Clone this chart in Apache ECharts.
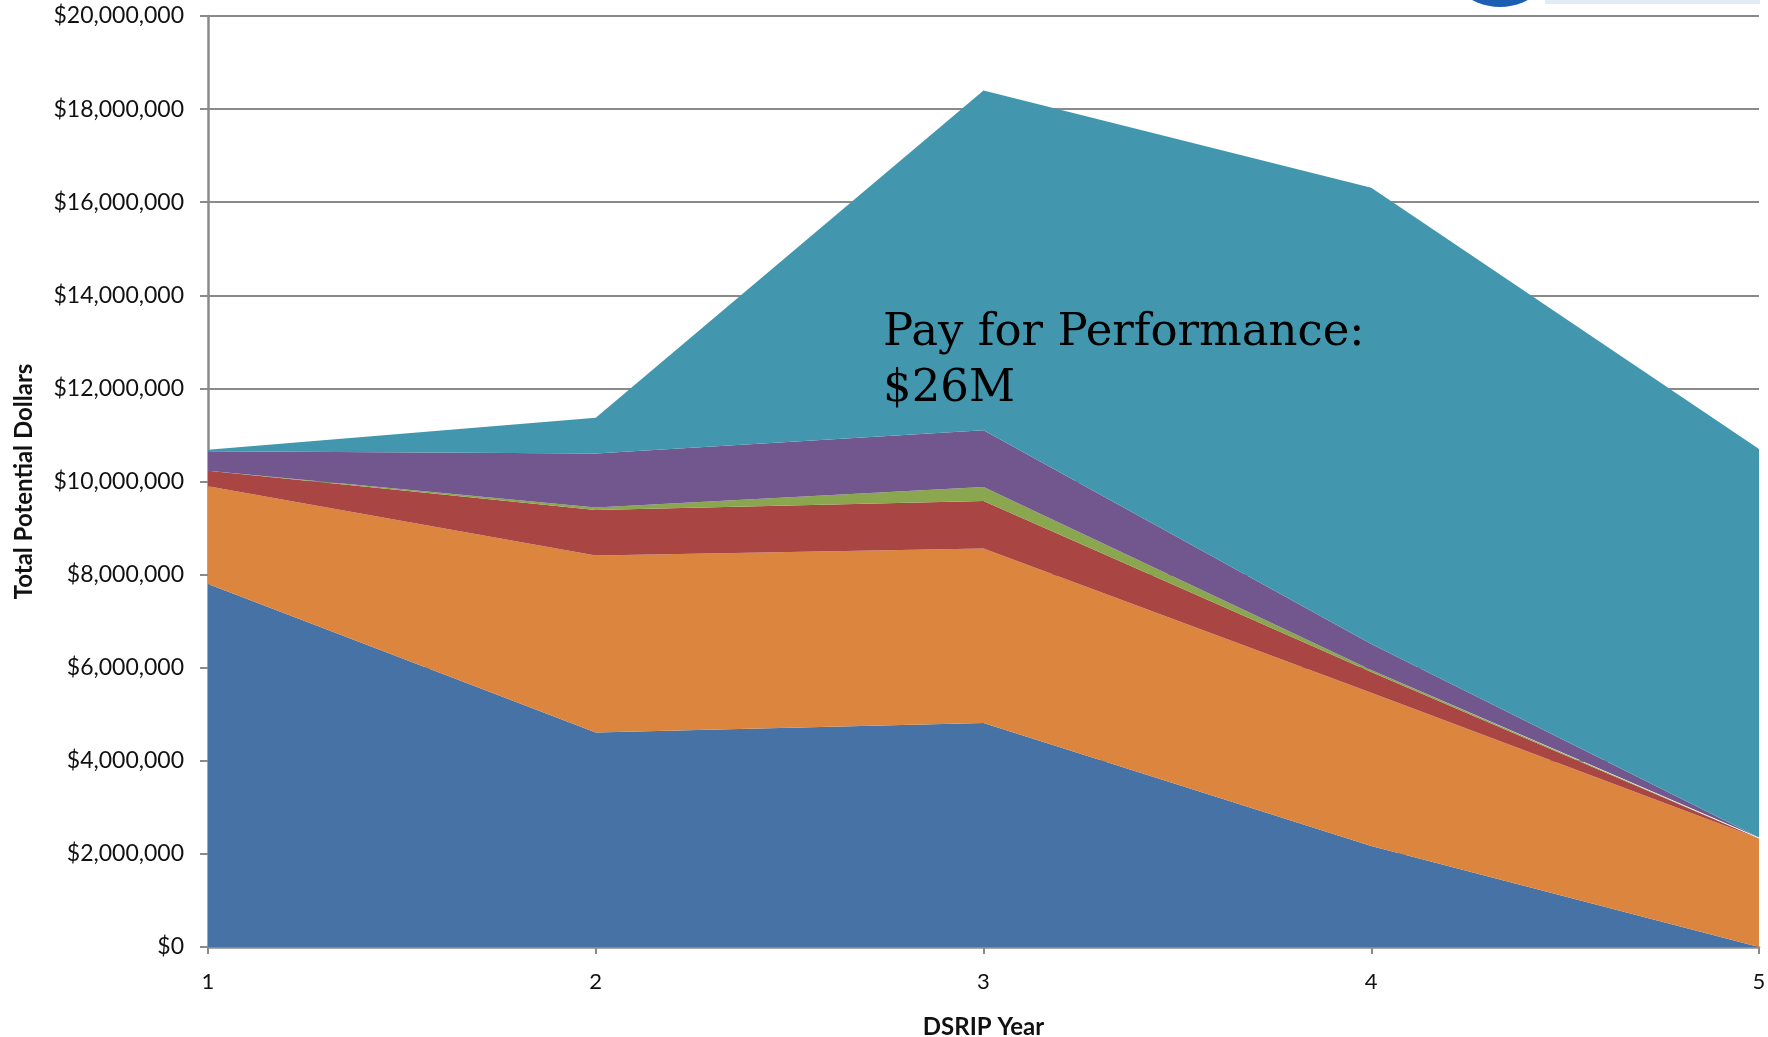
<!DOCTYPE html>
<html>
<head>
<meta charset="utf-8">
<script src="https://cdn.jsdelivr.net/npm/echarts@6/dist/echarts.min.js"></script>
<style>
  html, body { margin: 0; padding: 0; background: #fff; overflow: hidden; }
  #chart { width: 1768px; height: 1037px; }
</style>
</head>
<body>
<div id="chart"></div>
<script>
// DSRIP year categories
const years = ['1', '2', '3', '4', '5'];

// Stacked potential dollars per funding component (in dollars)
const seriesBlue   = [7800000, 4610000, 4810000, 2170000, 0];
const seriesOrange = [2100000, 3800000, 3750000, 3290000, 2330000];
const seriesRed    = [330000, 980000, 1020000, 450000, 0];
const seriesGreen  = [0, 50000, 300000, 40000, 0];
const seriesPurple = [420000, 1160000, 1220000, 560000, 20000];
const seriesTeal   = [30000, 770000, 7300000, 9800000, 8350000]; // pay for performance

const yTicks = { min: 0, max: 20000000, interval: 2000000 };

const colors = ['#4672a6', '#dc853e', '#a94543', '#8aa64f', '#71578e', '#4297ae'];
const stacks = [seriesBlue, seriesOrange, seriesRed, seriesGreen, seriesPurple, seriesTeal];

const fmt = v => '$' + Math.round(v).toString().replace(/\B(?=(\d{3})+(?!\d))/g, ',');

const chart = echarts.init(document.getElementById('chart'), null, { renderer: 'canvas' });

chart.setOption({
  animation: false,
  backgroundColor: '#ffffff',
  grid: { left: 208, right: 9, top: 16, bottom: 90, containLabel: false, outerBoundsMode: 'none' },
  xAxis: {
    type: 'category',
    data: years,
    boundaryGap: false,
    name: 'DSRIP Year',
    nameLocation: 'middle',
    nameGap: 68,
    nameTextStyle: { fontFamily: 'Lato', fontWeight: 'bold', fontSize: 24, color: '#111' },
    axisLine: { show: true, lineStyle: { color: '#8a8a8a', width: 2.5 } },
    axisTick: { show: true, alignWithLabel: true, length: 7, lineStyle: { color: '#8a8a8a', width: 2 } },
    axisLabel: { margin: 24, fontFamily: 'Lato', fontSize: 22, color: '#111' },
    splitLine: { show: false }
  },
  yAxis: {
    type: 'value',
    min: yTicks.min,
    max: yTicks.max,
    interval: yTicks.interval,
    name: 'Total Potential Dollars',
    nameLocation: 'middle',
    nameGap: 172,
    nameTextStyle: { fontFamily: 'Lato', fontWeight: 'bold', fontSize: 24, color: '#111' },
    axisLine: { show: true, lineStyle: { color: '#8a8a8a', width: 2.5 } },
    axisTick: { show: true, length: 8, lineStyle: { color: '#8a8a8a', width: 2 } },
    axisLabel: { margin: 24, fontFamily: 'Lato', fontSize: 23, color: '#111', formatter: fmt },
    splitLine: { show: true, lineStyle: { color: '#8a8a8a', width: 2 } }
  },
  series: stacks.map((data, i) => ({
    type: 'line',
    stack: 'total',
    data: data,
    symbol: 'none',
    showSymbol: false,
    lineStyle: { width: 0 },
    areaStyle: { color: colors[i], opacity: 1 },
    z: 3
  })),
  graphic: [
    {
      type: 'text',
      left: 883,
      top: 305,
      z: 10,
      style: {
        text: 'Pay for Performance:\n$26M',
        font: '45px "DejaVu Serif"',
        lineHeight: 56,
        fill: '#000'
      }
    },
    {
      type: 'circle',
      shape: { cx: 1500, cy: -52, r: 59 },
      style: { fill: '#1b5fb3' },
      z: 10
    },
    {
      type: 'rect',
      shape: { x: 1545, y: 0, width: 215, height: 4 },
      style: { fill: '#d7e6f2', opacity: 0.8 },
      z: 10
    }
  ]
});
</script>
</body>
</html>
